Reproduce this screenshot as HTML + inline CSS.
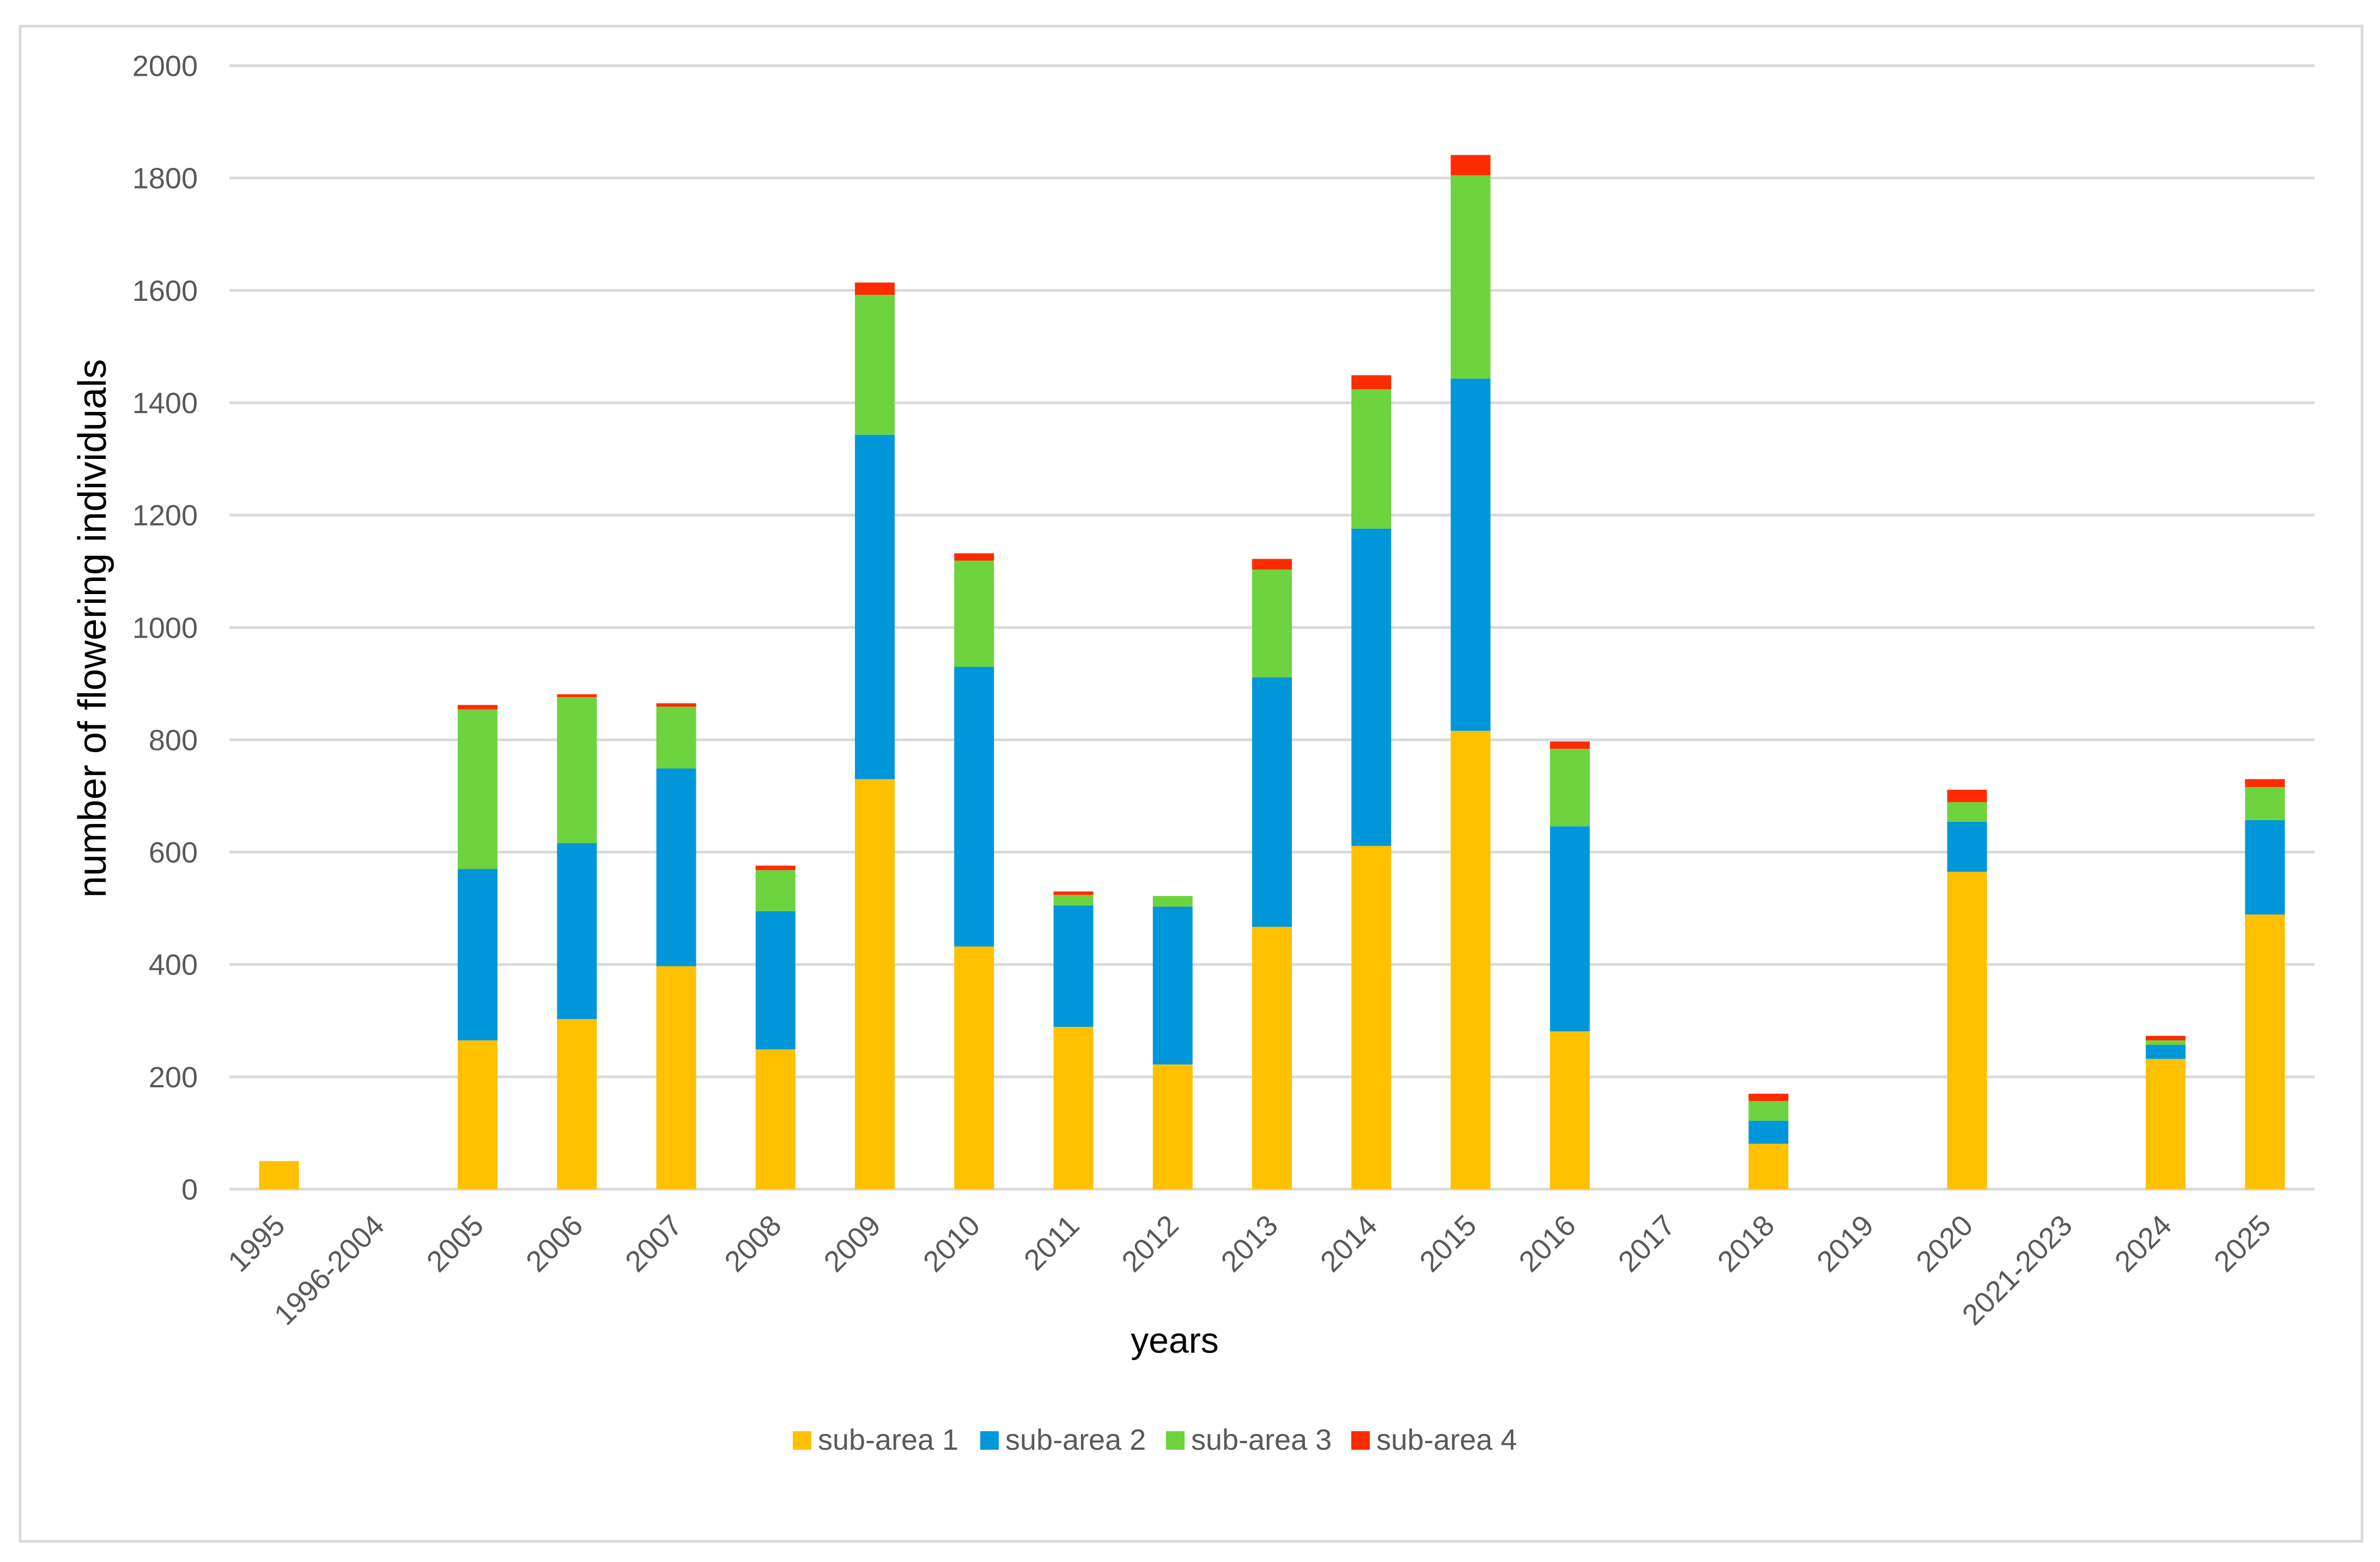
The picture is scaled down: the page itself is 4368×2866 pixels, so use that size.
<!DOCTYPE html>
<html><head><meta charset="utf-8"><style>
html,body{margin:0;padding:0;background:#fff;}
svg{display:block;font-family:"Liberation Sans",sans-serif;}
</style></head><body>
<svg id="chart" width="4368" height="2866" viewBox="0 0 4368 2866" xmlns="http://www.w3.org/2000/svg">
<rect x="37" y="48" width="4298" height="2780" fill="#fff" stroke="#d9d9d9" stroke-width="5"/>
<g id="grid"></g>
<g id="bars"></g>
<g id="xlabels"></g>
<text x="194" y="1153" font-size="72" fill="#000" text-anchor="middle" transform="rotate(-90 194 1153)">number of flowering individuals</text>
<text x="2156" y="2482" font-size="66" fill="#000" text-anchor="middle">years</text>
<g id="legend"></g>
</svg>
<script>
const categories=["1995","1996-2004","2005","2006","2007","2008","2009","2010","2011","2012","2013","2014","2015","2016","2017","2018","2019","2020","2021-2023","2024","2025"];
const subArea1=[50,0,265,303,397,249,730,432,289,222,467,611,816,281,0,81,0,565,0,232,489];
const subArea2=[0,0,305,313,352,246,613,498,216,281,444,565,627,365,0,41,0,89,0,25,168];
const subArea3=[0,0,284,260,110,73,249,189,19,19,192,248,362,138,0,35,0,35,0,8,59];
const subArea4=[0,0,8,5,6,8,22,13,6,0,19,25,36,13,0,13,0,22,0,8,14];
const yTicks=[0,200,400,600,800,1000,1200,1400,1600,1800,2000];
const seriesNames=["sub-area 1","sub-area 2","sub-area 3","sub-area 4"];
const seriesColors=["#FFC000","#0097DA","#6DD33F","#FF2B00"];

const NS="http://www.w3.org/2000/svg";
const x0=421,x1=4248,y0=2182,yTop=120.5,yMax=2000;
const band=(x1-x0)/categories.length;
function yScale(v){return y0-(v/yMax)*(y0-yTop);}
function xCenter(i){return x0+band*(i+0.5);}
function mk(tag,attrs){const e=document.createElementNS(NS,tag);for(const k in attrs)e.setAttribute(k,attrs[k]);return e;}

const grid=document.getElementById('grid');
yTicks.forEach(t=>{
  const y=yScale(t);
  const l=mk('line',{x1:x0,x2:x1,y1:y,y2:y,stroke:'#d9d9d9','stroke-width':5});
  
  
  grid.appendChild(l);
  const tx=mk('text',{x:363,y:y+19,'font-size':54,fill:'#595959','text-anchor':'end'});
  tx.textContent=t;
  
  
  grid.appendChild(tx);
});

const bars=document.getElementById('bars');
const series=[subArea1,subArea2,subArea3,subArea4];
const bw=73;
categories.forEach((c,i)=>{
  let acc=0;
  series.forEach((s,k)=>{
    const v=s[i];
    if(v>0){
      const r=mk('rect',{x:xCenter(i)-bw/2,y:yScale(acc+v),width:bw,height:yScale(acc)-yScale(acc+v),fill:seriesColors[k]});
      
      
      bars.appendChild(r);
    }
    acc+=v;
  });
});

const xl=document.getElementById('xlabels');
categories.forEach((c,i)=>{
  const x=xCenter(i)+14,y=2252;
  const t=mk('text',{x:x,y:y,'font-size':54,fill:'#595959','text-anchor':'end',transform:'rotate(-45 '+x+' '+y+')'});
  t.textContent=c;
  
  
  xl.appendChild(t);
});

const lg=document.getElementById('legend');
const lx=[1455,1799,2140,2480];
seriesNames.forEach((n,k)=>{
  const g=mk('g',{});
  
  
  g.appendChild(mk('rect',{x:lx[k],y:2626,width:34,height:34,fill:seriesColors[k]}));
  const t=mk('text',{x:lx[k]+46,y:2660,'font-size':54,fill:'#595959'});
  t.textContent=n;
  g.appendChild(t);
  lg.appendChild(g);
});
</script>
</body></html>
